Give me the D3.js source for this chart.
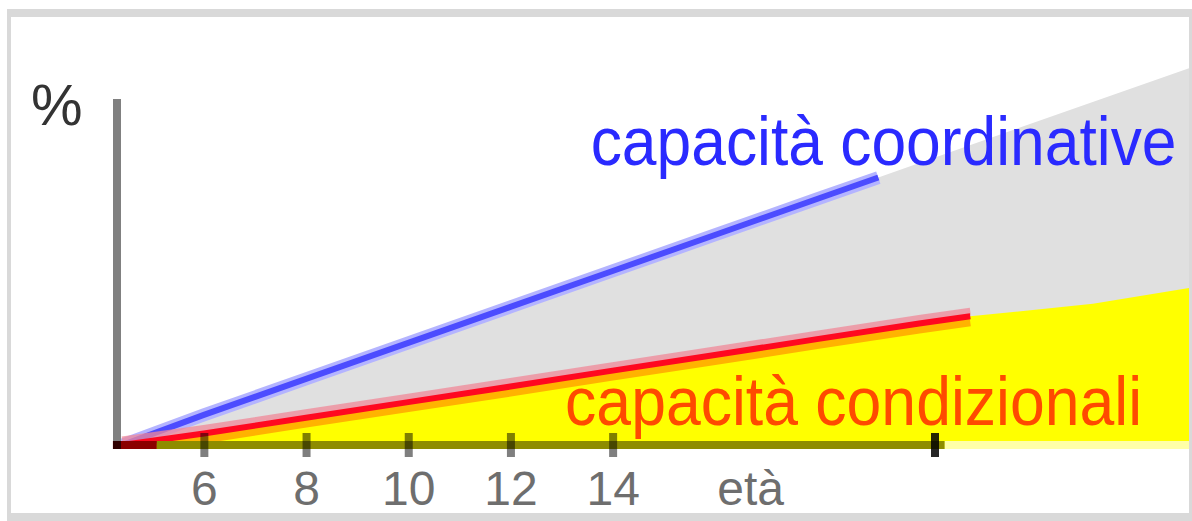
<!DOCTYPE html>
<html>
<head>
<meta charset="utf-8">
<script src="https://cdn.jsdelivr.net/npm/d3@7"></script>
<style>
  html, body { margin: 0; padding: 0; background: #fff; }
  svg { display: block; }
  text { font-family: "Liberation Sans", Arial, sans-serif; }
</style>
</head>
<body>
<svg id="chart"></svg>
<script>
// eta (x) e percentuale (y)
var coordAges   = [4.4, 6, 8, 10, 12, 14, 16, 18, 19.2, 22, 25.3];
var coordValues = [0, 8.7, 19.1, 29.5, 39.9, 50.3, 60.7, 71.1, 77.3, 91.9, 109];
var coordLineEnd = 19.2;

var condAges   = [4.4, 6, 8, 10, 12, 14, 16, 18, 20, 21, 23.4, 25.3];
var condValues = [0, 3.3, 7.9, 12.4, 16.9, 21.5, 26.0, 30.6, 35.1, 37.2, 40.8, 45.4];
var condLineEnd = 21;

var tickAges   = [6, 8, 10, 12, 14, 20.3];
var tickLabels = ["6", "8", "10", "12", "14", ""];
var axisTitle = "età", axisTitleAge = 16.7;
var yLabel = "%";

var seriesLabels = ["capacità coordinative", "capacità condizionali"];
var seriesLabelAt = [[13.57, 80.9], [13.07, 5.8]]; // [eta, %] di inizio testo
var seriesColors = ["#2a2aff", "#ff4a00"];

// tratti della linea di base: rosso scuro, oliva, giallo chiaro
var baseStarts = [4.22, 5.08, 20.5];
var baseEnds   = [5.08, 20.5, 25.3];
var baseColors = ["#8b0000", "#8e8c00", "#ffffa8"];

var width = 1192, height = 521;

var svg = d3.select("#chart").attr("width", width).attr("height", height);

var x = d3.scaleLinear().domain([4.3, 25.3]).range([117, 1190]);
var y = d3.scaleLinear().domain([0, 100]).range([445, 99]);

var coord = coordAges.map(function(a, i){ return [a, coordValues[i]]; });
var cond = condAges.map(function(a, i){ return [a, condValues[i]]; });

// clip all'interno della cornice
svg.append("clipPath").attr("id", "inner")
  .append("rect").attr("x", 11).attr("y", 16).attr("width", 1178).attr("height", 497);
// clip sopra la linea di base
svg.append("clipPath").attr("id", "above")
  .append("rect").attr("x", 11).attr("y", 16).attr("width", 1178).attr("height", y(0) - 16);

var g = svg.append("g").attr("clip-path", "url(#inner)");

var area = d3.area()
  .x(function(d){ return x(d[0]); })
  .y0(y(0) + 4)
  .y1(function(d){ return y(d[1]); });

var line = d3.line()
  .x(function(d){ return x(d[0]); })
  .y(function(d){ return y(d[1]); });

g.append("path").datum(coord).attr("d", area).attr("fill", "#e0e0e0");
g.append("path").datum(cond).attr("d", area).attr("fill", "#ffff00");

var lines = g.append("g").attr("clip-path", "url(#above)");

// linea coordinativa
var coordLine = coord.filter(function(d){ return d[0] <= coordLineEnd; });
lines.append("path").datum(coordLine).attr("d", line)
  .attr("fill", "none").attr("stroke", "#b4b4ff").attr("stroke-width", 13);
lines.append("path").datum(coordLine).attr("d", line)
  .attr("fill", "none").attr("stroke", "#4c4cff").attr("stroke-width", 6);

// linea condizionale
var condLine = cond.filter(function(d){ return d[0] <= condLineEnd; });
lines.append("path").datum(condLine).attr("d", line).attr("transform", "translate(0,6)")
  .attr("fill", "none").attr("stroke", "#ffa000").attr("stroke-width", 8).attr("opacity", 0.8);
lines.append("path").datum(condLine).attr("d", line).attr("transform", "translate(0,-5)")
  .attr("fill", "none").attr("stroke", "#f08898").attr("stroke-width", 7).attr("opacity", 0.75);
lines.append("path").datum(condLine).attr("d", line)
  .attr("fill", "none").attr("stroke", "#ff0820").attr("stroke-width", 6);

// linea di base a tratti colorati
g.selectAll("line.base").data(baseStarts).enter().append("line")
  .attr("class", "base")
  .attr("x1", function(d){ return x(d); })
  .attr("x2", function(d, i){ return x(baseEnds[i]); })
  .attr("y1", y(0)).attr("y2", y(0))
  .attr("stroke", function(d, i){ return baseColors[i]; })
  .attr("stroke-width", 8);

// asse y
g.append("line")
  .attr("x1", x(4.3)).attr("x2", x(4.3))
  .attr("y1", y(100)).attr("y2", y(0) + 4)
  .attr("stroke", "#808080").attr("stroke-width", 8);
g.append("rect").attr("x", x(4.3) - 4).attr("y", y(0) - 4)
  .attr("width", 8).attr("height", 8).attr("fill", "#300000");

// asse x
var xAxis = d3.axisBottom(x)
  .tickValues(tickAges)
  .tickSize(12)
  .tickFormat(function(d, i){ return tickLabels[i]; });

var ax = g.append("g").attr("transform", "translate(0," + y(0) + ")").call(xAxis);
ax.select(".domain").remove();
ax.selectAll(".tick line")
  .attr("y1", -12).attr("y2", 12)
  .attr("stroke", "#000")
  .attr("stroke-opacity", function(d, i){ return i == tickAges.length - 1 ? 0.85 : 0.5; })
  .attr("stroke-width", 8);
ax.selectAll(".tick text")
  .attr("y", 60).attr("dy", null)
  .attr("font-size", 48).attr("font-family", "Liberation Sans, Arial, sans-serif")
  .attr("fill", "#6e6e6e");

ax.append("text")
  .attr("x", x(axisTitleAge)).attr("y", 60)
  .attr("text-anchor", "middle")
  .attr("font-size", 48).attr("font-family", "Liberation Sans, Arial, sans-serif")
  .attr("fill", "#6e6e6e")
  .text(axisTitle);

// etichette delle serie, compresse in orizzontale per stare nella cornice
var labelWidths = [586, 577];
svg.selectAll("text.series").data(seriesLabels).enter().append("text")
  .attr("class", "series")
  .attr("font-size", 68)
  .attr("fill", function(d, i){ return seriesColors[i]; })
  .text(function(d){ return d; })
  .attr("transform", function(d, i){
    var k = labelWidths[i] / this.getComputedTextLength();
    return "translate(" + x(seriesLabelAt[i][0]) + "," + y(seriesLabelAt[i][1]) + ") scale(" + k + ",1)";
  });

// etichetta %
svg.append("text")
  .attr("x", 31).attr("y", 125)
  .attr("font-size", 58).attr("fill", "#333")
  .text(yLabel);

// cornice grigia
var frame = [[7, 9, 4, 512], [7, 9, 1185, 8], [1189, 9, 3, 512], [7, 513, 1185, 8]];
svg.selectAll("rect.frame").data(frame).enter().append("rect")
  .attr("class", "frame")
  .attr("x", function(d){ return d[0]; })
  .attr("y", function(d){ return d[1]; })
  .attr("width", function(d){ return d[2]; })
  .attr("height", function(d){ return d[3]; })
  .attr("fill", "#d9d9d9");
</script>
</body>
</html>
